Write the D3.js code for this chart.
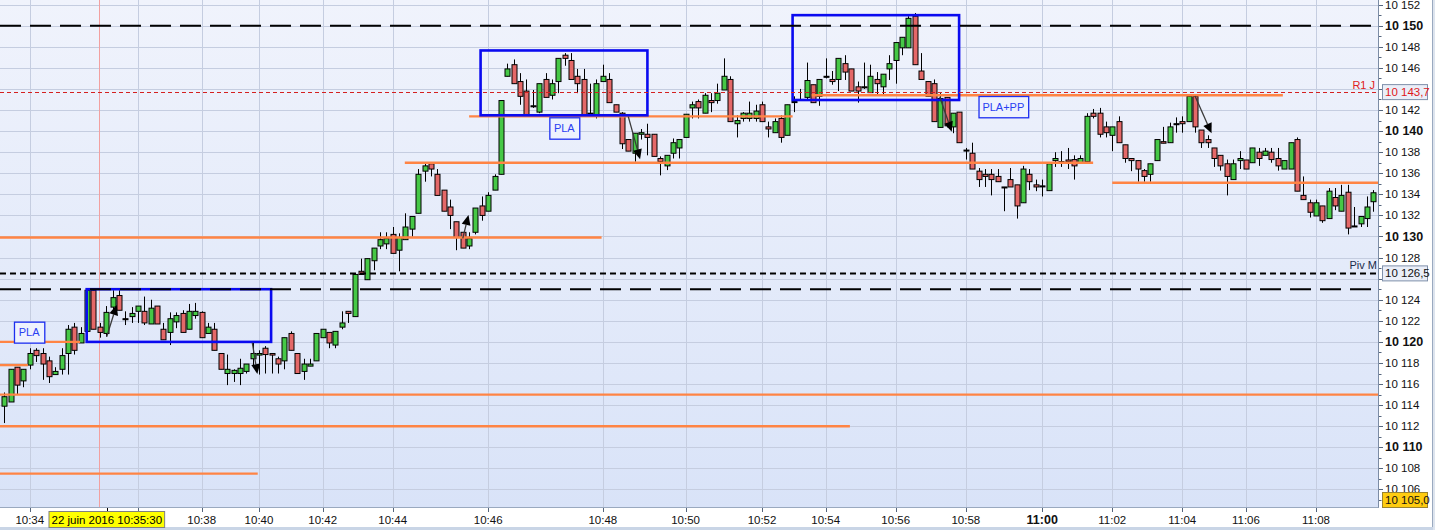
<!DOCTYPE html>
<html><head><meta charset="utf-8">
<script src="https://cdn.jsdelivr.net/npm/d3@7"></script>
<style>
html,body{margin:0;padding:0;background:#fff;}
svg{display:block;font-family:"Liberation Sans",Arial,sans-serif;}
</style>
</head><body>
<svg id="chart" width="1435" height="530"></svg>
<script>
// ---------- DATA ----------
const opens = [10113.9,10114.3,10117.6,10116.3,10117.8,10119.2,10118.9,10118.2,10116.9,10117.4,
10118.9,10121.4,10119.9,10121.0,10124.9,10121.4,10120.8,10123.3,10124.4,10122.2,
10122.4,10122.9,10122.9,10121.7,10123.4,10121.2,10120.9,10121.9,10122.7,10121.2,
10122.5,10122.8,10120.8,10121.2,10118.9,10117.0,10117.0,10117.0,10117.2,10118.4,
10118.75,10119.4,10118.9,10118.4,10118.2,10120.8,10118.9,10117.2,10117.7,10118.2,
10120.4,10120.9,10119.7,10121.4,10122.9,10122.4,10126.7,10125.9,10127.7,10129.1,
10129.3,10130.2,10128.7,10129.7,10130.7,10132.2,10136.2,10136.9,10135.9,10134.4,
10132.8,10131.4,10130.4,10129.1,10130.4,10132.9,10132.4,10134.4,10135.9,10145.2,
10146.3,10144.7,10143.8,10142.4,10141.8,10144.9,10143.4,10144.7,10147.2,10146.7,
10145.2,10144.9,10141.7,10141.5,10144.7,10144.9,10142.5,10141.7,10139.2,10137.9,
10139.7,10139.7,10139.7,10137.4,10136.7,10137.9,10138.4,10139.4,10142.2,10142.8,
10141.7,10142.9,10142.9,10143.9,10144.9,10140.7,10141.2,10141.2,10141.2,10142.5,
10140.4,10139.85,10141.2,10139.6,10142.8,10143.0,10143.2,10144.4,10143.3,10145.2,
10144.9,10144.9,10146.4,10145.9,10144.2,10144.2,10143.65,10144.9,10144.2,10145.9,
10146.7,10147.9,10147.9,10150.9,10145.7,10144.7,10144.5,10140.35,10143.2,10140.4,
10141.8,10138.2,10137.9,10136.2,10135.9,10135.9,10135.7,10134.7,10135.4,10134.9,
10133.2,10135.9,10134.9,10134.8,10134.35,10137.2,10137.1,10137.26,10137.3,10137.0,
10137.1,10141.7,10141.7,10140.4,10139.6,10140.9,10138.7,10137.4,10137.2,10136.25,
10135.9,10137.2,10139.0,10138.9,10140.7,10140.9,10140.9,10143.3,10140.1,10139.2,
10138.4,10137.7,10136.9,10135.4,10137.2,10137.26,10137.0,10138.0,10137.7,10138.0,
10137.4,10136.4,10136.4,10139.2,10133.9,10133.2,10131.95,10132.9,10131.7,10133.7,
10132.4,10134.2,10131.0,10131.2,10131.7,10133.3];
const highs = [10115.2,10117.4,10117.6,10117.4,10119.4,10119.4,10119.4,10118.6,10117.6,10119.4,
10121.6,10121.8,10121.4,10124.9,10125.0,10121.8,10123.4,10124.9,10124.9,10122.9,
10123.3,10123.4,10124.3,10124.0,10123.4,10121.8,10122.8,10122.8,10123.0,10123.6,
10123.7,10122.9,10121.8,10121.8,10118.9,10118.8,10117.4,10118.4,10117.9,10119.9,
10119.2,10119.6,10118.9,10118.6,10120.4,10121.0,10118.9,10118.4,10118.4,10120.8,
10121.2,10120.9,10121.0,10122.9,10122.9,10126.5,10127.9,10127.9,10128.9,10130.4,
10130.4,10130.9,10130.3,10132.2,10131.9,10136.4,10136.9,10136.9,10136.4,10134.4,
10133.5,10131.4,10130.4,10130.4,10132.7,10133.8,10134.2,10135.9,10142.9,10146.4,
10146.8,10145.5,10144.9,10143.9,10144.5,10145.5,10144.9,10146.9,10147.4,10147.4,
10145.9,10145.9,10144.5,10144.9,10146.3,10145.5,10142.5,10141.8,10139.2,10139.8,
10140.2,10140.7,10139.7,10137.6,10137.7,10139.3,10139.2,10141.6,10142.8,10143.0,
10143.6,10143.6,10144.5,10146.9,10145.2,10141.5,10141.8,10142.8,10142.5,10142.8,
10140.9,10141.2,10141.5,10142.5,10143.3,10144.0,10146.5,10144.4,10144.9,10146.9,
10145.7,10146.9,10147.2,10145.9,10144.7,10146.5,10146.3,10145.6,10145.4,10147.2,
10148.4,10148.9,10150.9,10151.2,10147.4,10144.7,10144.9,10143.6,10143.2,10141.7,
10141.8,10138.4,10138.9,10136.5,10136.4,10136.4,10136.4,10134.7,10136.5,10134.9,
10136.7,10136.4,10135.4,10135.4,10136.9,10138.0,10138.1,10138.4,10137.7,10137.7,
10141.7,10142.1,10142.2,10140.9,10140.4,10141.4,10138.7,10137.4,10137.2,10136.4,
10136.9,10139.2,10140.4,10140.8,10141.3,10141.4,10143.3,10143.3,10140.1,10139.6,
10138.4,10137.7,10137.3,10137.3,10138.1,10137.26,10138.4,10138.4,10138.4,10138.4,
10138.4,10137.2,10138.9,10139.4,10135.7,10133.5,10133.5,10132.9,10134.6,10134.6,
10134.9,10134.9,10132.8,10131.9,10133.8,10134.4];
const lows = [10112.3,10114.3,10115.0,10115.7,10117.4,10118.1,10116.4,10116.1,10116.9,10116.9,
10116.9,10118.8,10119.9,10121.0,10121.2,10120.4,10120.5,10122.9,10123.0,10121.6,
10121.8,10121.8,10121.6,10121.7,10121.7,10120.2,10119.7,10121.3,10120.9,10121.2,
10122.2,10120.4,10120.8,10119.2,10117.4,10115.9,10116.2,10115.9,10117.0,10117.8,
10116.9,10117.0,10117.0,10117.0,10117.4,10119.2,10117.0,10116.4,10117.7,10118.2,
10120.4,10119.4,10119.4,10121.2,10121.8,10122.4,10126.4,10125.9,10126.8,10128.8,
10128.8,10128.4,10126.7,10129.7,10130.0,10132.2,10135.2,10135.7,10133.9,10132.4,
10130.7,10128.7,10128.9,10128.8,10130.2,10131.5,10132.4,10134.4,10135.9,10145.2,
10144.5,10142.5,10141.4,10142.2,10141.7,10143.2,10143.0,10143.6,10146.2,10144.9,
10143.6,10141.5,10141.6,10141.2,10144.7,10142.7,10141.8,10138.3,10138.1,10137.1,
10139.2,10137.7,10137.6,10135.8,10136.3,10137.4,10137.4,10139.4,10141.2,10141.2,
10141.7,10141.8,10142.6,10143.9,10140.9,10139.4,10140.9,10140.9,10140.9,10140.9,
10139.4,10139.85,10138.9,10139.6,10141.8,10142.9,10143.0,10142.7,10142.4,10145.0,
10144.4,10143.8,10144.85,10143.8,10142.7,10144.0,10143.65,10143.5,10143.4,10144.85,
10144.5,10147.2,10147.9,10146.3,10144.9,10143.3,10140.9,10140.35,10140.35,10139.8,
10138.9,10137.3,10136.4,10134.7,10134.7,10133.9,10135.2,10132.4,10134.7,10131.7,
10133.2,10134.4,10134.3,10133.8,10134.35,10136.6,10136.6,10136.4,10135.4,10137.0,
10137.1,10141.2,10139.4,10139.4,10138.1,10138.9,10137.0,10136.2,10135.2,10135.2,
10135.2,10137.2,10138.85,10138.9,10139.85,10139.85,10140.9,10139.85,10138.4,10138.4,
10136.6,10136.25,10133.9,10135.4,10136.4,10136.4,10137.0,10136.7,10137.7,10137.0,
10136.25,10136.4,10136.4,10134.3,10133.5,10131.8,10131.95,10131.3,10131.7,10132.5,
10132.4,10130.2,10130.9,10130.9,10130.9,10132.35];
const closes = [10114.8,10117.4,10115.9,10117.4,10118.9,10118.7,10117.9,10116.7,10117.2,10118.7,
10121.2,10119.2,10120.8,10124.9,10121.2,10120.9,10122.8,10124.2,10123.0,10122.2,
10122.7,10123.4,10121.8,10123.2,10121.7,10120.2,10122.2,10122.5,10120.9,10122.9,
10122.9,10120.4,10121.4,10119.2,10117.4,10117.4,10117.3,10117.5,10117.9,10118.9,
10118.9,10118.8,10118.75,10117.9,10120.4,10119.2,10117.0,10117.9,10117.9,10120.8,
10121.2,10119.9,10121.0,10121.8,10122.7,10126.4,10126.4,10127.9,10128.9,10129.7,
10129.8,10128.4,10129.9,10130.9,10131.9,10135.9,10136.7,10136.4,10133.9,10132.4,
10132.0,10129.9,10128.9,10129.8,10132.7,10132.0,10133.9,10135.7,10142.9,10145.9,
10144.5,10143.3,10141.4,10142.4,10144.5,10143.2,10144.5,10146.9,10146.9,10144.9,
10144.5,10141.5,10141.7,10144.5,10145.2,10142.7,10141.8,10138.8,10138.1,10139.8,
10139.85,10139.4,10137.6,10137.1,10137.7,10138.9,10139.2,10141.6,10142.5,10142.2,
10143.4,10142.7,10143.6,10145.2,10140.9,10141.0,10141.7,10141.7,10141.9,10140.9,
10140.2,10140.9,10139.4,10142.5,10142.8,10143.0,10144.8,10142.7,10144.9,10145.2,
10144.7,10146.9,10145.6,10143.8,10143.8,10144.2,10145.2,10144.5,10145.4,10146.4,
10148.4,10148.9,10150.7,10146.3,10144.9,10143.3,10140.9,10143.1,10140.5,10141.7,
10138.9,10138.2,10136.4,10135.4,10135.7,10135.4,10135.2,10134.7,10134.7,10132.9,
10136.4,10135.2,10134.7,10134.8,10136.9,10137.4,10137.1,10137.1,10136.7,10137.4,
10141.4,10141.4,10139.7,10139.85,10140.4,10138.9,10137.4,10137.2,10136.4,10135.7,
10136.9,10139.2,10138.85,10140.4,10140.7,10140.7,10143.3,10140.4,10138.9,10138.9,
10137.4,10136.7,10135.7,10136.9,10137.4,10136.4,10138.4,10137.4,10138.1,10137.3,
10136.7,10137.2,10138.9,10134.3,10133.5,10132.3,10133.2,10131.5,10134.3,10132.9,
10133.9,10130.8,10131.0,10131.9,10132.8,10134.15];

// time labels: candle index and text
const tickIndex = [4,21,31,40,50,61,76,94,107,119,129,140,151,163,174,185,195,206];
const tickText  = ["10:34","10:36","10:38","10:40","10:42","10:44","10:46","10:48","10:50","10:52","10:54","10:56","10:58","11:00","11:02","11:04","11:06","11:08"];
const tickHidden = ["10:36"];   // covered by the cursor label
const tickBold = ["11:00"];

// price levels
const longDashLevels = [10150, 10125];
const pivotLevel = 10126.5, pivotName = "Piv M";
const r1Level = 10143.7, r1Name = "R1 J";
// orange support/resistance lines: [startIndex|null, endIndex|null, price]
const srLines = [[null,11.9,10120],[null,3.7,10117.8],[null,null,10115],[null,132.8,10112],
  [null,39.8,10107.5],[null,93.8,10129.9],[62.9,171.0,10137],[73.0,123.8,10141.4],
  [126.8,200.8,10143.4],[174.0,null,10135.1]];
// blue zone boxes: [i0, i1, priceTop, priceBottom]
const zones = [[12.94,41.9,10125,10120],[74.8,101.0,10147.65,10141.5],[123.8,149.95,10151.0,10142.95]];
// tags: text, i0, i1, priceTop, priceBottom
const tagText = ["PLA","PLA","PLA+PP"];
const tagPos = [[1.52,6.28,10121.92,10119.93],[85.6,90.3,10141.31,10139.28],[153.0,160.8,10143.33,10141.31]];
// arrows: [i0, p0, i1, p1]
const arrows = [[16.08,10120.49,17.65,10123.5],[38.95,10119.92,39.74,10116.95],[72.0,10129.83,72.9,10132.04],
  [98.0,10141.37,99.85,10137.33],[146.9,10143.26,148.8,10139.94],[187.0,10143.33,189.6,10139.79]];
// cursor
const cursorIndex = 14.95, cursorPrice = 10105.0, cursorLabel = "22 juin 2016 10:35:30", cursorLabelIndex = 16.1;

// ---------- CHART ----------
const W = 1435, H = 530, plotR = 1378, plotB = 507;
const svg = d3.select("#chart");
const n = opens.length;
const x = d3.scaleLinear().domain([0, n - 1]).range([4.3, 1373.3]);
const y = d3.scaleLinear().domain([10105, 10150]).range([500, 25.7]);
const loc = d3.formatLocale({decimal: ",", thousands: " ", grouping: [3], currency: ["", ""]});
const f0 = loc.format(",.0f"), f1 = loc.format(",.1f");

const defs = svg.append("defs");
const g = defs.append("linearGradient").attr("id","bg").attr("x1",0).attr("y1",0).attr("x2",0).attr("y2",1);
g.append("stop").attr("offset","0%").attr("stop-color","#f0f3fc");
g.append("stop").attr("offset","100%").attr("stop-color","#d9e3f8");
defs.append("clipPath").attr("id","clip").append("rect").attr("x",0).attr("y",0).attr("width",plotR).attr("height",plotB);

svg.append("rect").attr("width",W).attr("height",H).attr("fill","#ffffff");
svg.append("rect").attr("x",0).attr("y",0).attr("width",plotR).attr("height",plotB).attr("fill","url(#bg)");

const plot = svg.append("g").attr("clip-path","url(#clip)");
const gridVals = d3.range(10106, 10153, 2);
plot.selectAll("line.hg").data(gridVals).join("line")
  .attr("x1",0).attr("x2",plotR).attr("y1",d=>Math.round(y(d))+0.5).attr("y2",d=>Math.round(y(d))+0.5)
  .attr("stroke","#c5cde0").attr("stroke-width",1);
plot.selectAll("line.vg").data(tickIndex).join("line")
  .attr("x1",d=>Math.round(x(d))+0.5).attr("x2",d=>Math.round(x(d))+0.5).attr("y1",0).attr("y2",plotB)
  .attr("stroke","#c5cde0").attr("stroke-width",1);

// cursor line
plot.append("line").attr("x1",Math.round(x(cursorIndex))+0.5).attr("x2",Math.round(x(cursorIndex))+0.5)
  .attr("y1",0).attr("y2",plotB).attr("stroke","#f2a0a0").attr("stroke-width",1);

// candles
const idx = d3.range(n);
plot.selectAll("line.wick").data(idx).join("line")
  .attr("x1",i=>Math.round(x(i))+0.5).attr("x2",i=>Math.round(x(i))+0.5)
  .attr("y1",i=>y(highs[i])).attr("y2",i=>y(lows[i]))
  .attr("stroke","#000").attr("stroke-width",1);
plot.selectAll("rect.body").data(idx).join("rect")
  .attr("x",i=>Math.round(x(i))-2)
  .attr("width",5)
  .attr("y",i=>y(Math.max(opens[i],closes[i])))
  .attr("height",i=>Math.max(1, y(Math.min(opens[i],closes[i])) - y(Math.max(opens[i],closes[i]))))
  .attr("fill",i=> closes[i] > opens[i] ? "#46c846" : (closes[i] < opens[i] ? "#e46868" : "#000"))
  .attr("stroke","#000").attr("stroke-width",1);

// orange lines
plot.selectAll("line.sr").data(srLines).join("line")
  .attr("x1",d=>d[0]===null?0:x(d[0])).attr("x2",d=>d[1]===null?plotR:x(d[1]))
  .attr("y1",d=>y(d[2])).attr("y2",d=>y(d[2]))
  .attr("stroke","#ff8444").attr("stroke-width",2.4);

// zones
plot.selectAll("rect.zone").data(zones).join("rect")
  .attr("x",d=>x(d[0])).attr("width",d=>x(d[1])-x(d[0]))
  .attr("y",d=>y(d[2])).attr("height",d=>y(d[3])-y(d[2]))
  .attr("fill","none").attr("stroke","#0a0af0").attr("stroke-width",2.6);

// dashed levels
plot.selectAll("line.ld").data(longDashLevels).join("line")
  .attr("x1",0).attr("x2",plotR).attr("y1",d=>y(d)).attr("y2",d=>y(d))
  .attr("stroke","#000").attr("stroke-width",2).attr("stroke-dasharray","21,9");
plot.append("line").attr("x1",0).attr("x2",plotR).attr("y1",y(pivotLevel)).attr("y2",y(pivotLevel))
  .attr("stroke","#000").attr("stroke-width",2).attr("stroke-dasharray","6,4");
plot.append("line").attr("x1",0).attr("x2",plotR).attr("y1",Math.round(y(r1Level))+0.5).attr("y2",Math.round(y(r1Level))+0.5)
  .attr("stroke","#d42020").attr("stroke-width",1).attr("stroke-dasharray","4,3");

// arrows
arrows.forEach(a=>{
  const x0=x(a[0]), y0=y(a[1]), x1=x(a[2]), y1=y(a[3]);
  const ang=Math.atan2(y1-y0,x1-x0), L=10, Wd=4.5;
  const bx=x1-L*Math.cos(ang), by=y1-L*Math.sin(ang);
  plot.append("line").attr("x1",x0).attr("y1",y0).attr("x2",bx).attr("y2",by)
    .attr("stroke","#3a3a3a").attr("stroke-width",1.3);
  const px=-Math.sin(ang), py=Math.cos(ang);
  plot.append("path").attr("d",`M${x1},${y1}L${bx+px*Wd},${by+py*Wd}L${bx-px*Wd},${by-py*Wd}Z`).attr("fill","#000");
});

// tags
tagPos.forEach((t,k)=>{
  const x0=x(t[0]), x1=x(t[1]), y0=y(t[2]), y1=y(t[3]);
  plot.append("rect").attr("x",x0+0.5).attr("y",y0+0.5).attr("width",x1-x0).attr("height",y1-y0)
    .attr("fill","#eef2fd").attr("stroke","#1c2ef0").attr("stroke-width",1.3);
  plot.append("text").attr("x",(x0+x1)/2).attr("y",(y0+y1)/2+4).attr("text-anchor","middle")
    .attr("font-size",11).attr("fill","#2a3ff2").text(tagText[k]);
});

// level names
plot.append("text").attr("x",plotR-3).attr("y",y(r1Level)-3).attr("text-anchor","end")
  .attr("font-size",11).attr("fill","#e02020").text(r1Name);
plot.append("text").attr("x",plotR-1).attr("y",y(pivotLevel)-4).attr("text-anchor","end")
  .attr("font-size",11).attr("fill","#1a2a4a").text(pivotName);

// frame lines
svg.append("line").attr("x1",plotR+0.5).attr("x2",plotR+0.5).attr("y1",0).attr("y2",plotB+1).attr("stroke","#7c8ca5");
svg.append("line").attr("x1",0).attr("x2",plotR+0.5).attr("y1",plotB+0.5).attr("y2",plotB+0.5).attr("stroke","#9aa9bf");
svg.append("line").attr("x1",1432.5).attr("x2",1432.5).attr("y1",0).attr("y2",527).attr("stroke","#9aa9bf");
svg.append("rect").attr("x",0).attr("y",527).attr("width",W).attr("height",3).attr("fill","#c9d5e6");
svg.append("rect").attr("x",1433).attr("y",0).attr("width",2).attr("height",H).attr("fill","#dde4ee");

// price tags shown on the axis (they hide the axis labels they cover)
const priceTags = [r1Level, pivotLevel];
const covered = v => priceTags.some(p => Math.abs(y(v) - y(p)) < 8);

// y axis
const yAxis = svg.append("g");
const minor = d3.range(10105, 10153, 1);
yAxis.selectAll("line.t").data(minor).join("line")
  .attr("x1",plotR+1).attr("x2",d=>plotR+1+(d%2===0?4:2.5))
  .attr("y1",d=>Math.round(y(d))+0.5).attr("y2",d=>Math.round(y(d))+0.5).attr("stroke","#55657c");
yAxis.selectAll("text").data(gridVals.filter(v=>!covered(v))).join("text")
  .attr("x",plotR+7).attr("y",d=>y(d)+4)
  .attr("font-size",d=>d%10===0?12.5:11.5).attr("font-weight",d=>d%10===0?"bold":"normal")
  .attr("fill","#111").text(d=>f0(d));

function priceTag(v, fill, stroke, color){
  const yy=y(v);
  svg.append("rect").attr("x",plotR+4.5).attr("y",yy-7.5).attr("width",45).attr("height",15)
    .attr("fill",fill).attr("stroke",stroke).attr("stroke-width",1);
  svg.append("text").attr("x",plotR+7).attr("y",yy+4).attr("font-size",11.5).attr("fill",color).text(f1(v));
}
priceTag(r1Level,"#eaeef8","#7f90aa","#e01818");
priceTag(pivotLevel,"#eaeef8","#7f90aa","#111");
priceTag(cursorPrice,"#ffcc10","#9a8430","#111");

// x axis
const xa = svg.append("g");
xa.selectAll("line").data(tickIndex).join("line")
  .attr("x1",d=>Math.round(x(d))+0.5).attr("x2",d=>Math.round(x(d))+0.5)
  .attr("y1",plotB+1).attr("y2",plotB+5).attr("stroke","#55657c");
xa.selectAll("text").data(tickIndex.filter((d,k)=>!tickHidden.includes(tickText[k]))).join("text")
  .attr("x",d=>x(d)).attr("y",524).attr("text-anchor","middle")
  .attr("font-size",d=>tickBold.includes(tickText[tickIndex.indexOf(d)])?12.5:11.5)
  .attr("font-weight",d=>tickBold.includes(tickText[tickIndex.indexOf(d)])?"bold":"normal")
  .attr("fill","#111").text(d=>tickText[tickIndex.indexOf(d)]);

// cursor label
const cl = svg.append("g");
const ct = cl.append("text").attr("x",x(cursorLabelIndex)).attr("y",524).attr("text-anchor","middle")
  .attr("font-size",11.5).attr("fill","#000").text(cursorLabel);
const bb = ct.node().getBBox();
cl.insert("rect","text").attr("x",bb.x-2.5).attr("y",511.5).attr("width",bb.width+5).attr("height",16)
  .attr("fill","#ffff00").attr("stroke","#808080");
cl.append("line").attr("x1",Math.round(x(cursorLabelIndex))+0.5).attr("x2",Math.round(x(cursorLabelIndex))+0.5)
  .attr("y1",plotB+1).attr("y2",511).attr("stroke","#000");
</script>
</body></html>
